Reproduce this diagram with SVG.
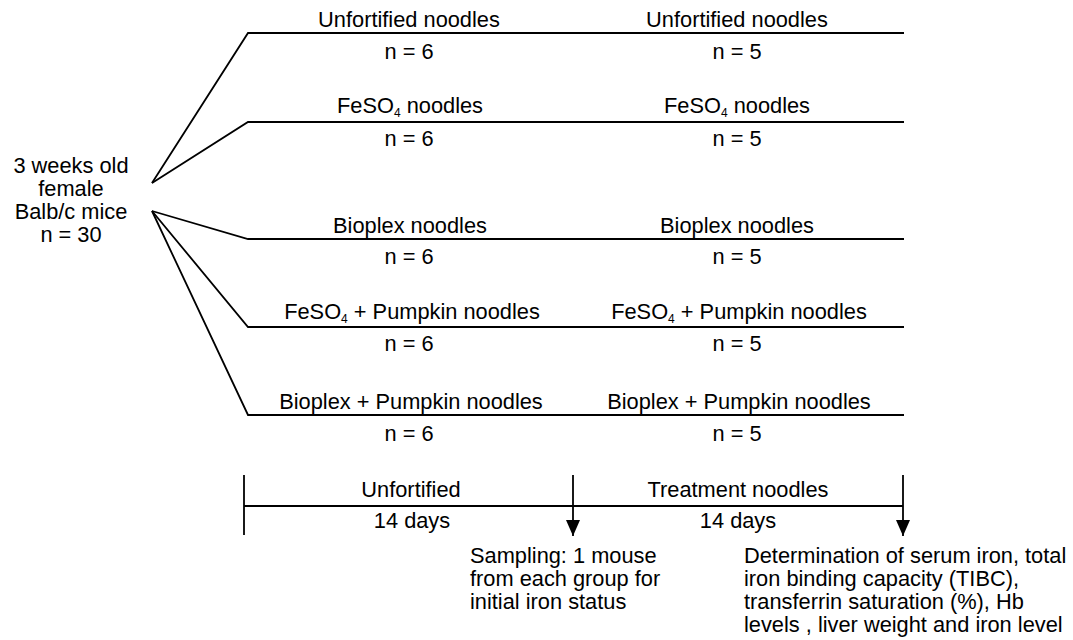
<svg xmlns="http://www.w3.org/2000/svg" width="1073" height="640" viewBox="0 0 1073 640">
<style>
text{font-family:"Liberation Sans",Arial,sans-serif;font-size:21.8px;fill:#000}
.c{text-anchor:middle}
.sub{font-size:12px}
.ln{stroke:#000;stroke-width:1.8;fill:none}
</style>
<defs>
<marker id="ah" viewBox="0 0 16 14" refX="16" refY="7" markerWidth="16" markerHeight="14" markerUnits="userSpaceOnUse" orient="auto">
<path d="M0,0 L16,7 L0,14 Z" fill="#000"/>
</marker>
</defs>
<rect width="1073" height="640" fill="#fff"/>
<g id="connectors">
<path class="ln" d="M152,183 L248,33 L904,33"/>
<path class="ln" d="M152,183 L248,122 L904,122"/>
<path class="ln" d="M152,211 L248,239 L904,239"/>
<path class="ln" d="M152,211 L248,327 L904,327"/>
<path class="ln" d="M152,211 L248,415 L904,415"/>
<path class="ln" d="M244,506 L903,506"/>
<path class="ln" d="M244,475 L244,535"/>
<line class="ln" x1="573" y1="475" x2="573" y2="536" marker-end="url(#ah)"/>
<line class="ln" x1="903" y1="475" x2="903" y2="536" marker-end="url(#ah)"/>
</g>
<g id="source">
<text class="c"><tspan x="71" y="173">3 weeks old</tspan><tspan x="71" y="196">female</tspan><tspan x="71" y="219">Balb/c mice</tspan><tspan x="71" y="242">n = 30</tspan></text>
</g>
<g id="row1-left"><text class="c" x="409" y="27">Unfortified noodles</text><text class="c" x="409" y="59">n = 6</text></g>
<g id="row1-right"><text class="c" x="737" y="27">Unfortified noodles</text><text class="c" x="737" y="59">n = 5</text></g>
<g id="row2-left"><text class="c" x="410" y="113">FeSO<tspan class="sub" dy="4">4</tspan><tspan dy="-4"> noodles</tspan></text><text class="c" x="409" y="146">n = 6</text></g>
<g id="row2-right"><text class="c" x="737" y="113">FeSO<tspan class="sub" dy="4">4</tspan><tspan dy="-4"> noodles</tspan></text><text class="c" x="737" y="146">n = 5</text></g>
<g id="row3-left"><text class="c" x="410" y="233">Bioplex noodles</text><text class="c" x="409" y="264">n = 6</text></g>
<g id="row3-right"><text class="c" x="737" y="233">Bioplex noodles</text><text class="c" x="737" y="264">n = 5</text></g>
<g id="row4-left"><text class="c" x="412" y="319">FeSO<tspan class="sub" dy="4">4</tspan><tspan dy="-4"> + Pumpkin noodles</tspan></text><text class="c" x="409" y="351">n = 6</text></g>
<g id="row4-right"><text class="c" x="739" y="319">FeSO<tspan class="sub" dy="4">4</tspan><tspan dy="-4"> + Pumpkin noodles</tspan></text><text class="c" x="737" y="351">n = 5</text></g>
<g id="row5-left"><text class="c" x="411" y="409">Bioplex + Pumpkin noodles</text><text class="c" x="409" y="441">n = 6</text></g>
<g id="row5-right"><text class="c" x="739" y="409">Bioplex + Pumpkin noodles</text><text class="c" x="737" y="441">n = 5</text></g>
<g id="phase1"><text class="c" x="411" y="497">Unfortified</text><text class="c" x="412" y="528">14 days</text></g>
<g id="phase2"><text class="c" x="738" y="497">Treatment noodles</text><text class="c" x="738" y="528">14 days</text></g>
<g id="sampling">
<text><tspan x="470" y="563">Sampling: 1 mouse</tspan><tspan x="470" y="586">from each group for</tspan><tspan x="470" y="609">initial iron status</tspan></text>
</g>
<g id="determination">
<text><tspan x="744" y="563">Determination of serum iron, total</tspan><tspan x="744" y="586">iron binding capacity (TIBC),</tspan><tspan x="744" y="609">transferrin saturation (%), Hb</tspan><tspan x="744" y="632">levels , liver weight and iron level</tspan></text>
</g>
</svg>
